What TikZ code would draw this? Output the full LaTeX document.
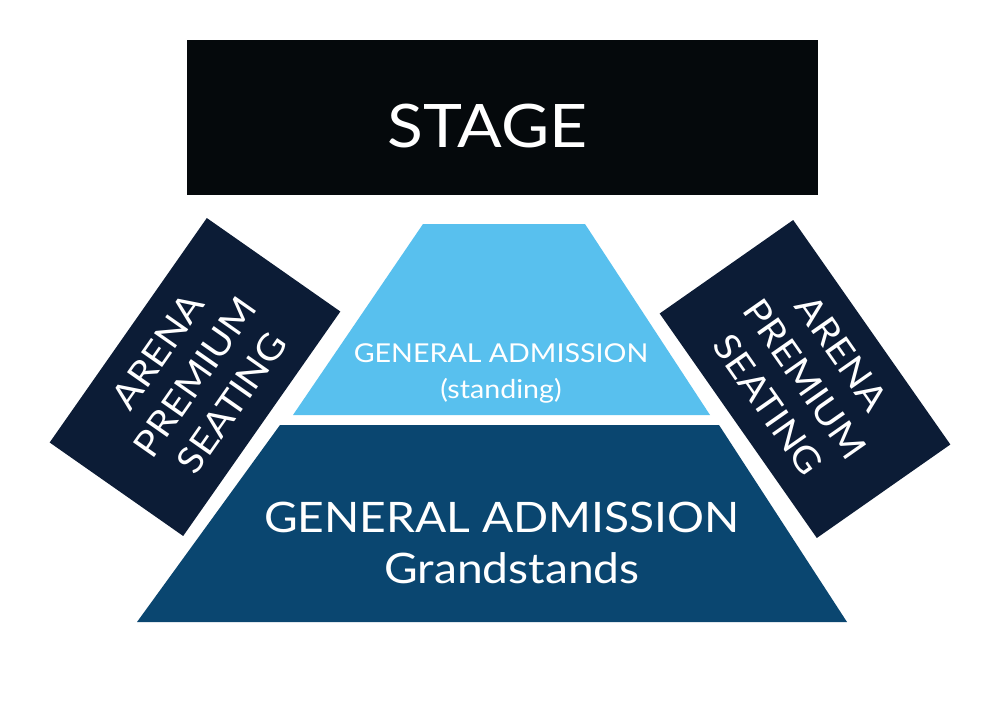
\documentclass[tikz,border=0pt]{standalone}
\usepackage{fontspec}
\setmainfont{Lato}[FakeStretch=1.1]
\definecolor{stagec}{RGB}{5,9,12}
\definecolor{lightc}{RGB}{88,192,238}
\definecolor{darkc}{RGB}{10,70,112}
\definecolor{rectc}{RGB}{12,28,54}
\tikzset{
  lbl/.style={text=white, inner sep=0pt, anchor=base},
  arena/.style={fill=rectc, inner sep=0pt, minimum width=274pt, minimum height=163pt,
    text=white, align=center, font=\fontsize{36}{45}\selectfont},
}
\begin{document}
\begin{tikzpicture}[x=1pt,y=-1pt]
\useasboundingbox (0,0) rectangle (1000,723);
\fill[white] (0,0) rectangle (1000,723);
% stage
\fill[stagec] (187,40) rectangle (818,195);
\node[lbl, font=\fontsize{60}{60}\selectfont] (stage) at (487.5,147) {STAGE};
% side seating blocks
\node[arena, rotate=55] (arenaL) at (195,377) {ARENA\\PREMIUM\\SEATING};
\node[arena, rotate=-55] (arenaR) at (805,379) {ARENA\\PREMIUM\\SEATING};
% standing area
\fill[lightc] (423,224) -- (585,224) -- (710,415) -- (293,415) -- cycle;
\node[lbl, font=\fontsize{26}{26}\selectfont] (ga1) at (501,362) {GENERAL ADMISSION};
\node[lbl, font=\fontsize{26}{26}\selectfont] (ga1b) at (501,398) {(standing)};
% grandstands
\fill[darkc] (280,425) -- (719,425) -- (847,622) -- (137,622) -- cycle;
\node[lbl, font=\fontsize{42}{42}\selectfont] (ga2) at (502,532) {GENERAL ADMISSION};
\node[lbl, font=\fontsize{42}{42}\selectfont] (ga2b) at (512,583) {Grandstands};
\end{tikzpicture}
\end{document}
